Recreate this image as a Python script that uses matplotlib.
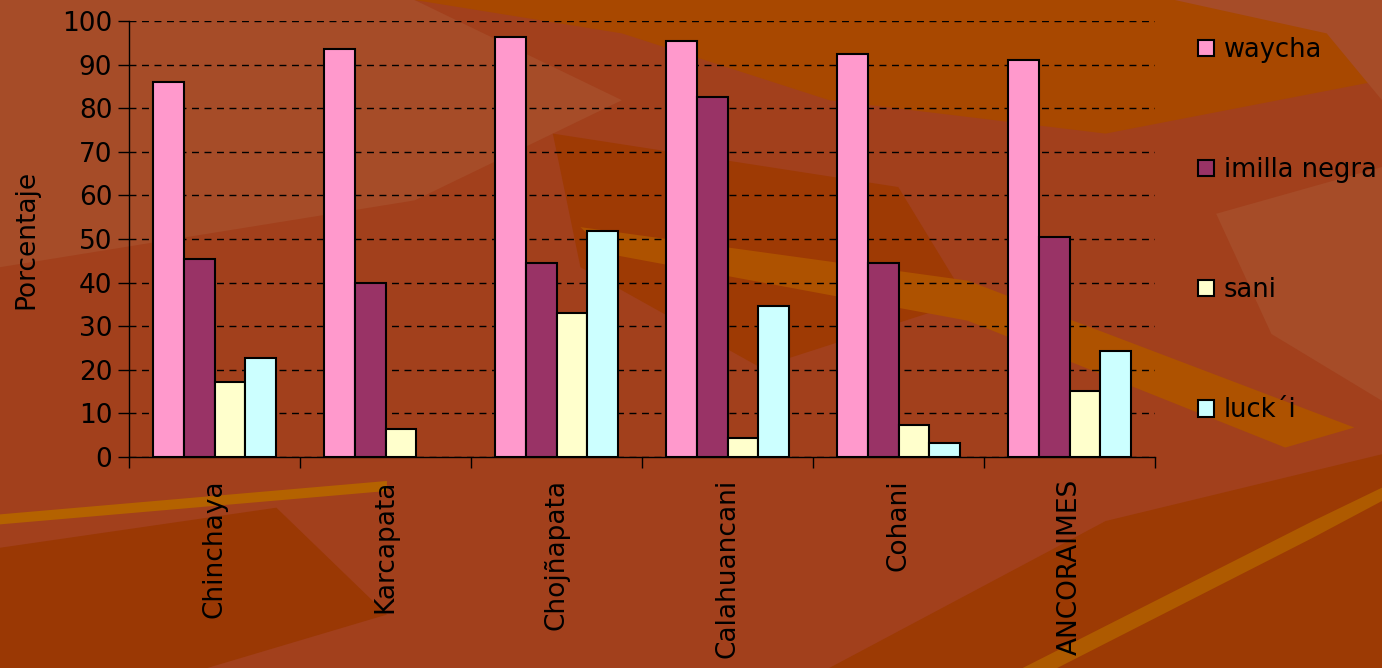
import matplotlib
matplotlib.use("Agg")
import matplotlib.pyplot as plt
import numpy as np
from matplotlib.patches import Polygon

categories = ["Chinchaya", "Karcapata", "Chojñapata", "Calahuancani", "Cohani", "ANCORAIMES"]
series_names = ["waycha", "imilla negra", "sani", "luck´i"]
waycha = [86.0, 93.5, 96.4, 95.4, 92.5, 91.0]
imilla_negra = [45.4, 40.0, 44.5, 82.6, 44.5, 50.4]
sani = [17.2, 6.4, 33.0, 4.3, 7.3, 15.2]
lucki = [22.7, np.nan, 51.9, 34.6, 3.3, 24.2]
colors = ["#FF99CC", "#993366", "#FFFFCC", "#CCFFFF"]

fig = plt.figure(figsize=(13.82, 6.68), dpi=100)
fig.patch.set_facecolor("#A2401C")

# decorative background shapes (leafy texture)
bg_shapes = [
    ([(0.0, 1.0), (0.30, 1.0), (0.45, 0.85), (0.30, 0.70), (0.0, 0.60)], "#A64C28"),
    ([(0.30, 1.0), (1.0, 1.0), (1.0, 0.88), (0.80, 0.80), (0.60, 0.85), (0.45, 0.95)], "#A84800"),
    ([(0.40, 0.80), (0.65, 0.72), (0.70, 0.55), (0.55, 0.45), (0.42, 0.60)], "#9E3A04"),
    ([(0.42, 0.66), (0.70, 0.58), (0.98, 0.36), (0.93, 0.33), (0.70, 0.52), (0.44, 0.62)], "#AE5200"),
    ([(0.0, 0.18), (0.20, 0.24), (0.28, 0.08), (0.15, 0.0), (0.0, 0.0)], "#9A3804"),
    ([(0.60, 0.0), (0.80, 0.22), (1.0, 0.32), (1.0, 0.0)], "#9C3A04"),
    ([(0.0, 0.23), (0.28, 0.28), (0.28, 0.265), (0.0, 0.215)], "#B46200"),
    ([(0.74, 0.0), (0.95, 0.22), (1.0, 0.27), (1.0, 0.25), (0.95, 0.195), (0.765, 0.0)], "#AE5A00"),
    ([(0.88, 0.68), (1.0, 0.75), (1.0, 0.40), (0.92, 0.50)], "#A64C28"),
    ([(0.85, 1.0), (1.0, 1.0), (1.0, 0.85), (0.96, 0.95)], "#A64C28"),
]
for pts, c in bg_shapes:
    fig.patches.append(Polygon(pts, closed=True, transform=fig.transFigure,
                               facecolor=c, edgecolor="none", zorder=-10))

ax = fig.add_axes([129/1382, 1 - 457/668, (1155-129)/1382, (457-21)/668])
ax.set_facecolor("none")
ax.set_zorder(5)

x = np.arange(len(categories))
w = 0.18
all_series = [waycha, imilla_negra, sani, lucki]
handles = []
for i, (vals, c, name) in enumerate(zip(all_series, colors, series_names)):
    b = ax.bar(x + (i - 1.5) * w, vals, width=w, color=c, edgecolor="black",
               linewidth=1.5, label=name, zorder=3)
    handles.append(b)

ax.set_ylim(0, 100)
ax.set_xlim(-0.5, len(categories) - 0.5)
ax.set_yticks(np.arange(0, 101, 10))
ax.yaxis.grid(True, linestyle=(0, (5, 4)), color="black", linewidth=1.0, zorder=1)
ax.set_axisbelow(True)

ax.set_xticks(np.arange(-0.5, len(categories), 1.0))
ax.set_xticklabels([])
ax.set_xticks(x, minor=True)
ax.set_xticklabels(categories, minor=True, rotation=90, fontsize=19, va="top", ha="center")
ax.tick_params(axis="x", which="minor", length=0, pad=16)
ax.tick_params(axis="x", which="major", length=8, width=1, color="black", direction="out")
ax.tick_params(axis="y", labelsize=19, length=8, width=1, color="black", pad=4)

for s in ["top", "right"]:
    ax.spines[s].set_visible(False)
for s in ["left", "bottom"]:
    ax.spines[s].set_color("black")
    ax.spines[s].set_linewidth(1.0)

ax.set_ylabel("Porcentaje", fontsize=19, labelpad=12)
ax.yaxis.set_label_coords(-0.087, 0.5)

leg = fig.legend(handles=handles, labels=series_names, loc="upper left",
                 bbox_to_anchor=(1188/1382, 1 - 27/668), frameon=False,
                 fontsize=18.5, labelspacing=3.66, handlelength=0.6, handleheight=0.6,
                 handletextpad=0.4, borderaxespad=0)

fig.savefig("out.png", dpi=100, facecolor=fig.get_facecolor())
